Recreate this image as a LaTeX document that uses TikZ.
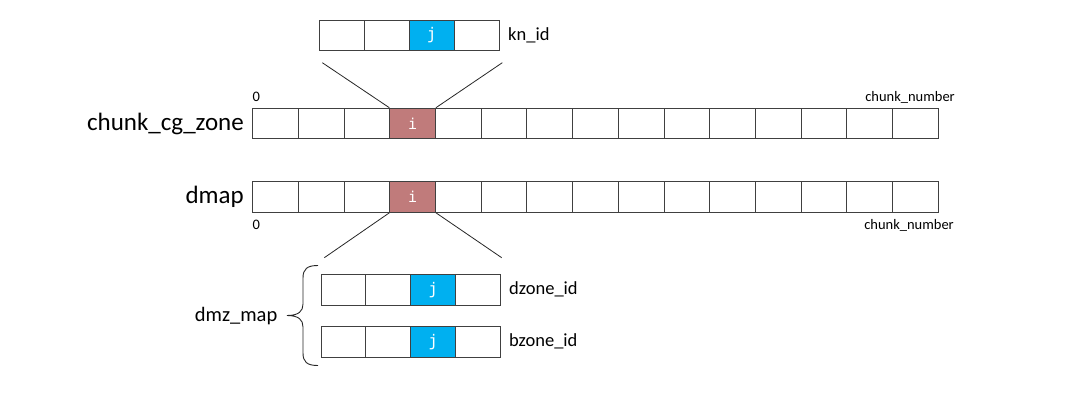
\documentclass[tikz,border=0pt]{standalone}
\usepackage{fontspec}
\setmainfont{Carlito}
\newfontfamily\monof{DejaVu Sans Mono}
\definecolor{cellline}{HTML}{404040}
\definecolor{hired}{HTML}{C07B7B}
\definecolor{hiblue}{HTML}{00B0F0}
\begin{document}
\begin{tikzpicture}[x=1pt,y=-1pt,
  cellbox/.style={draw=cellline,line width=0.9pt,fill=white,inner sep=0pt,minimum height=30.7pt},
  bigcell/.style={cellbox,minimum width=45.7pt},
  smallcell/.style={cellbox,minimum width=45pt},
  redcell/.style={fill=hired,text=white,font=\monof\fontsize{15}{15}\selectfont},
  bluecell/.style={fill=hiblue,text=white,font=\monof\fontsize{16}{16}\selectfont},
  biglabel/.style={font=\fontsize{25}{25}\selectfont,inner sep=0pt},
  midlabel/.style={font=\fontsize{18.5}{18.5}\selectfont,inner sep=0pt},
  tinylabel/.style={font=\fontsize{14.5}{14.5}\selectfont,inner sep=0pt},
  conn/.style={draw=black!85,line width=0.8pt}]
\path[use as bounding box] (0,0) rectangle (1070,392);
% main arrays
\foreach \k in {1,...,15}{
  \node[bigcell] (c\k) at ({252.7+45.7*(\k-0.5)},123.5) {};
  \node[bigcell] (d\k) at ({252.7+45.7*(\k-0.5)},197) {};
}
\node[bigcell,redcell] (c4) at ({252.7+45.7*3.5},123.5) {i};
\node[bigcell,redcell] (d4) at ({252.7+45.7*3.5},197) {i};
% kn_id, dzone_id, bzone_id
\foreach \k in {1,...,4}{
  \node[smallcell] (k\k) at ({319.3+45*(\k-0.5)},35.3) {};
  \node[smallcell] (z\k) at ({321+44.9*(\k-0.5)},289.7) {};
  \node[smallcell] (b\k) at ({321+44.9*(\k-0.5)},341.7) {};
}
\node[smallcell,bluecell] (k3) at ({319.3+45*2.5},35.3) {j};
\node[smallcell,bluecell] (z3) at ({321+44.9*2.5},289.7) {j};
\node[smallcell,bluecell] (b3) at ({321+44.9*2.5},341.7) {j};
% labels
\node[biglabel,anchor=east] (lcg) at (244,123.5) {chunk\_cg\_zone};
\node[biglabel,anchor=east] (ldm) at (244,197) {dmap};
\node[midlabel,anchor=west] (lkn) at (508,35.3) {kn\_id};
\node[midlabel,anchor=west] (ldz) at (509,289.7) {dzone\_id};
\node[midlabel,anchor=west] (lbz) at (509,341.7) {bzone\_id};
\node[midlabel,anchor=east,font=\fontsize{20.5}{20.5}\selectfont] (ldmz) at (277.5,316) {dmz\_map};
\node[tinylabel,anchor=base west] (z0a) at (252.5,101) {0};
\node[tinylabel,anchor=base east] (cna) at (955,101) {chunk\_number};
\node[tinylabel,anchor=base west] (z0b) at (252.5,229) {0};
\node[tinylabel,anchor=base east] (cnb) at (954,229) {chunk\_number};
% connectors
\coordinate (kl) at (322.3,62.7);
\coordinate (kr) at (502.3,62.7);
\coordinate (dl) at (324.3,257.7);
\coordinate (dr) at (501.7,257.7);
\draw[conn] (c4.north west) -- (kl);
\draw[conn] (c4.north east) -- (kr);
\draw[conn] (d4.south west) -- (dl);
\draw[conn] (d4.south east) -- (dr);
% brace
\draw[conn,line width=0.9pt] (318,265.5) .. controls (307,265.5) and (303,269) .. (303,278)
  -- (303,304) .. controls (303,311) and (299,315.5) .. (287,315.5)
  .. controls (299,315.5) and (303,320) .. (303,327)
  -- (303,353) .. controls (303,362) and (307,365.5) .. (318,365.5);
\end{tikzpicture}
\end{document}
